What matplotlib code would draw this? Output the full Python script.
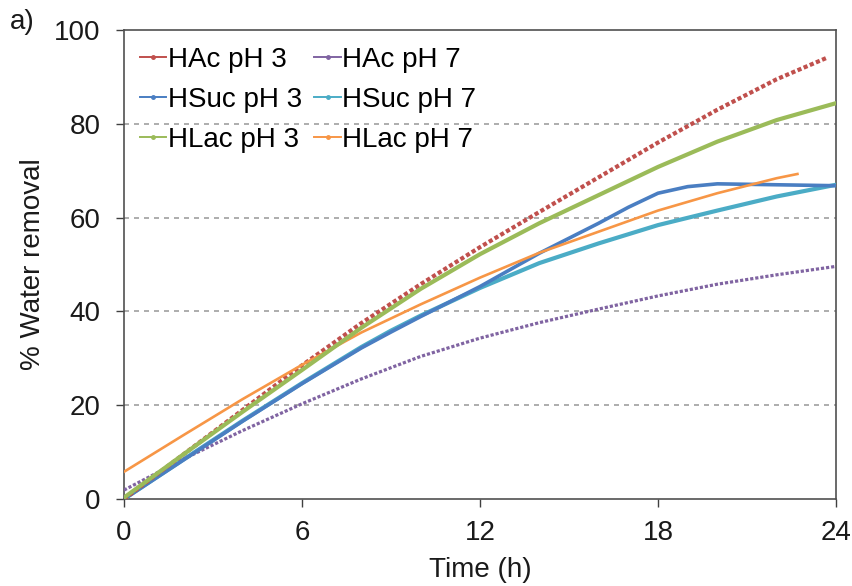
import numpy as np
import matplotlib.pyplot as plt
from matplotlib.lines import Line2D

plt.rcParams['font.family'] = ['Liberation Sans', 'DejaVu Sans']

# water removal (%) vs time (h)
t_hac3 = [0, 2, 4, 6, 8, 10, 12, 14, 16, 18, 20, 22, 23.7]
hac3 = [0, 9.5, 19, 28.5, 37.5, 45.8, 53.7, 61.2, 68.6, 76, 83, 89.5, 94.1]

t_hac7 = [0, 2, 4, 6, 8, 10, 12, 14, 16, 18, 20, 22, 24]
hac7 = [1.9, 8.5, 14.6, 20.3, 25.6, 30.4, 34.3, 37.6, 40.5, 43.3, 45.8, 47.8, 49.6]

t_hsuc3 = [0, 2, 4, 6, 8, 9, 10, 12, 14, 16, 17, 18, 19, 20, 22, 24]
hsuc3 = [0, 8.3, 16.6, 24.6, 32.2, 35.6, 38.9, 45.3, 52.4, 58.8, 62.2, 65.2, 66.6, 67.2, 67.0, 66.8]

t_hsuc7 = [0, 2, 4, 6, 8, 9, 10, 12, 14, 16, 18, 20, 22, 24]
hsuc7 = [0, 8.4, 16.7, 24.7, 32.4, 35.9, 39.1, 45.0, 50.3, 54.5, 58.4, 61.5, 64.5, 67.0]

t_hlac3 = [0, 2, 4, 6, 8, 10, 12, 14, 16, 18, 20, 22, 24]
hlac3 = [0.3, 9.5, 18.6, 27.5, 36.5, 44.8, 52.2, 58.8, 64.8, 70.8, 76.2, 80.8, 84.4]

t_hlac7 = [0, 2, 4, 6, 8, 10, 12, 14, 16, 18, 20, 22, 22.7]
hlac7 = [5.8, 13.6, 21.3, 28.6, 35.5, 41.5, 47.2, 52.5, 57.0, 61.5, 65.2, 68.4, 69.3]

c_red, c_purple = '#C0504D', '#8064A2'
c_blue, c_cyan = '#4A7EC2', '#4BACC6'
c_green, c_orange = '#9BBB59', '#F79646'

fs = 20

fig = plt.figure(figsize=(8.52, 5.86), dpi=100)
ax = fig.add_axes([124/852, 1 - 499/586, (836 - 124)/852, (499 - 30)/586])

ax.plot(t_hsuc7, hsuc7, color=c_cyan, lw=3.0, zorder=3)
ax.plot(t_hsuc3, hsuc3, color=c_blue, lw=2.6, zorder=4)
ax.plot(t_hac7, hac7, color=c_purple, lw=2.3, ls=(0, (1, 0.6)), zorder=3)
ax.plot(t_hlac7, hlac7, color=c_orange, lw=1.9, zorder=5)
ax.plot(t_hac3, hac3, color=c_red, lw=3.0, ls=(0, (1, 0.6)), zorder=4)
ax.plot(t_hlac3, hlac3, color=c_green, lw=3.0, zorder=5)

ax.set_xlim(0, 24)
ax.set_ylim(0, 100)
ax.set_xticks([0, 6, 12, 18, 24])
ax.set_yticks([0, 20, 40, 60, 80, 100])
ax.tick_params(direction='out', length=6, width=1, colors='#404040',
               labelcolor='#1a1a1a', labelsize=fs)
ax.tick_params(axis='x', pad=9)
ax.tick_params(axis='y', pad=11)
for s in ax.spines.values():
    s.set_color('#505050')
    s.set_linewidth(1.2)
for v in [20, 40, 60, 80]:
    ax.axhline(v, color='#A0A0A0', lw=1.2, ls=(0, (3, 3)), zorder=1)

ax.set_xlabel('Time (h)', fontsize=fs, color='#1a1a1a', labelpad=8)
ax.set_ylabel('% Water removal', fontsize=fs, color='#1a1a1a', labelpad=6)
fig.text(10/852, 1 - 22/586, 'a)', fontsize=fs, color='#1a1a1a', va='center')

labels = ['HAc pH 3', 'HSuc pH 3', 'HLac pH 3', 'HAc pH 7', 'HSuc pH 7', 'HLac pH 7']
colors = [c_red, c_blue, c_green, c_purple, c_cyan, c_orange]
handles = [Line2D([], [], color=c, lw=1.4, marker='o', ms=2.5) for c in colors]
ax.legend(handles, labels, ncol=2, frameon=False, fontsize=fs,
          loc='upper left', bbox_to_anchor=(140/852, 1 - 47/586),
          bbox_transform=fig.transFigure, borderpad=0, borderaxespad=0,
          handlelength=0.95, handletextpad=0.05, labelspacing=0.5,
          columnspacing=0.45)

fig.savefig('out.png', dpi=100)
